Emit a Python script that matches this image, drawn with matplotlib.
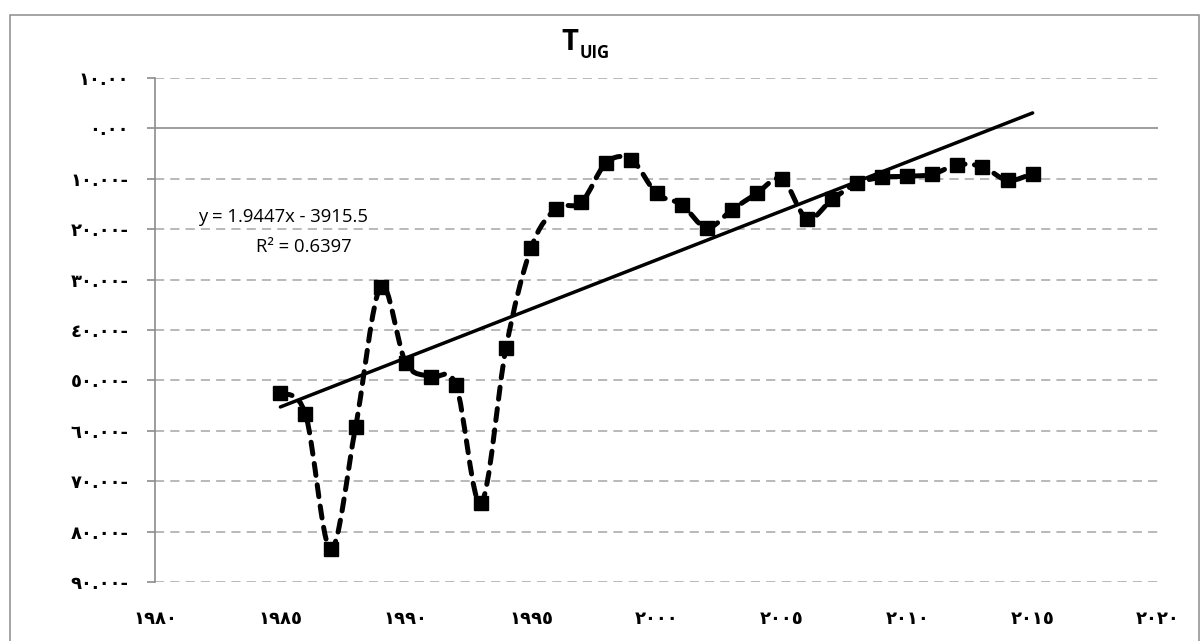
import numpy as np
import matplotlib
matplotlib.use("Agg")
import matplotlib.pyplot as plt
from matplotlib.path import Path
from matplotlib.patches import PathPatch, Rectangle

# ---------------- data ----------------
years = list(range(1985, 2016))
values = [-52.5, -56.7, -83.5, -59.2, -31.4, -46.5, -49.3, -50.9, -74.4, -43.5,
          -23.7, -15.9, -14.7, -6.8, -6.2, -12.9, -15.1, -19.7, -16.2, -12.9,
          -10.0, -17.9, -14.1, -10.9, -9.7, -9.5, -9.1, -7.2, -7.6, -10.3, -9.0]
trend_slope = 1.9447
trend_intercept = -3915.5
equation_text = "y = 1.9447x - 3915.5"
r2_text = "R² = 0.6397"

x_ticks = [1980, 1985, 1990, 1995, 2000, 2005, 2010, 2015, 2020]
x_tick_labels = ["١٩٨٠", "١٩٨٥", "١٩٩٠", "١٩٩٥", "٢٠٠٠", "٢٠٠٥", "٢٠١٠", "٢٠١٥", "٢٠٢٠"]
y_ticks = [10, 0, -10, -20, -30, -40, -50, -60, -70, -80, -90]
y_tick_labels = ["١٠.٠٠", "٠.٠٠", "١٠.٠٠-", "٢٠.٠٠-", "٣٠.٠٠-", "٤٠.٠٠-",
                 "٥٠.٠٠-", "٦٠.٠٠-", "٧٠.٠٠-", "٨٠.٠٠-", "٩٠.٠٠-"]

# ---------------- figure ----------------
W, H = 1202, 641
DPI = 100
fig = plt.figure(figsize=(W / DPI, H / DPI), dpi=DPI)

def px(x, y):
    return x / W, 1 - y / H

# outer chart border
fig.patches.append(Rectangle((10 / W, -0.05), (1199 - 10) / W, 1 - 15 / H + 0.05,
                             transform=fig.transFigure, fill=False,
                             edgecolor="#8c8c8c", linewidth=1.1))

left, right, top, bottom = 155, 1158, 78, 582
ax = fig.add_axes([left / W, 1 - bottom / H, (right - left) / W, (bottom - top) / H])
ax.set_xlim(1980, 2020)
ax.set_ylim(-90, 10)

grid_color = "#a6a6a6"
for yv in y_ticks:
    if yv == 0:
        ax.axhline(0, color="#8c8c8c", linewidth=1.2, zorder=1)
    else:
        ax.axhline(yv, color=grid_color, linewidth=1.1, linestyle=(0, (6, 4)), zorder=1)

for s in ["top", "right", "bottom"]:
    ax.spines[s].set_visible(False)
ax.spines["left"].set_color("#8c8c8c")
ax.spines["left"].set_linewidth(1.2)

ax.set_yticks(y_ticks)
ax.set_yticklabels(y_tick_labels, fontfamily="DejaVu Sans", fontweight="bold", fontsize=13)
ax.tick_params(axis="y", direction="out", length=6, width=1.2, color="#8c8c8c", pad=13)
ax.set_xticks(x_ticks)
ax.set_xticklabels(x_tick_labels, fontfamily="DejaVu Sans", fontweight="bold", fontsize=13)
ax.tick_params(axis="x", length=0, pad=20)

# smoothed dashed data line (Catmull-Rom style Bezier through the data points)
xs = np.array(years, dtype=float)
ys = np.array(values, dtype=float)
pts = np.column_stack([xs, ys])
verts = [pts[0]]
codes = [Path.MOVETO]
n = len(pts)
for i in range(n - 1):
    p0 = pts[i - 1] if i > 0 else pts[i]
    p1 = pts[i]
    p2 = pts[i + 1]
    p3 = pts[i + 2] if i + 2 < n else pts[i + 1]
    c1 = p1 + (p2 - p0) / 6.0
    c2 = p2 - (p3 - p1) / 6.0
    verts += [c1, c2, p2]
    codes += [Path.CURVE4] * 3
path = Path(verts, codes)
patch = PathPatch(path, fill=False, edgecolor="black", linewidth=3.6,
                  linestyle=(0, (2.4, 1.9)), capstyle="round", zorder=3)
ax.add_patch(patch)

ax.plot(years, values, linestyle="none", marker="s", markersize=10,
        color="black", zorder=4)

# trendline
tx = np.array([years[0], years[-1]], dtype=float)
ax.plot(tx, trend_slope * tx + trend_intercept, color="black", linewidth=2.5,
        solid_capstyle="round", zorder=2)

# equation label
fig.text(*px(283, 217), equation_text, ha="center", va="center",
         fontfamily="Open Sans", fontsize=13.3, color="black")
fig.text(*px(304, 247), r2_text, ha="center", va="center",
         fontfamily="Open Sans", fontsize=13.3, color="black")

# title T_UIG
fig.text(*px(561, 50), "T", ha="left", va="baseline", fontfamily="Open Sans",
         fontweight="bold", fontsize=21)
fig.text(*px(580, 58), "UIG", ha="left", va="baseline", fontfamily="Open Sans",
         fontweight="bold", fontsize=12)

fig.savefig("out.png", dpi=DPI)
